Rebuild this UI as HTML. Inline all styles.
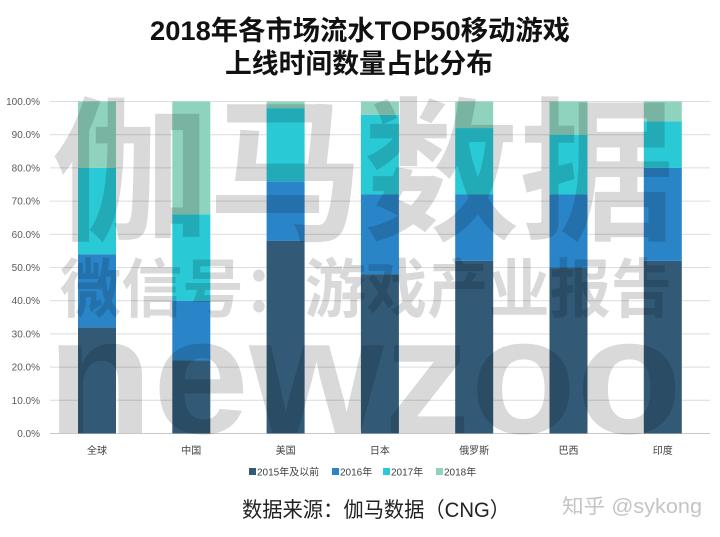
<!DOCTYPE html>
<html>
<head>
<meta charset="utf-8">
<style>
html,body{margin:0;padding:0;background:#fff;}
svg{display:block;}
text{font-family:"Liberation Sans","Noto Sans CJK SC",sans-serif;}
</style>
</head>
<body>
<svg width="720" height="537" viewBox="0 0 720 537" xmlns="http://www.w3.org/2000/svg">
<rect width="720" height="537" fill="#fff"/>
<!-- Title -->
<text x="150" y="40" font-size="27" font-weight="bold" fill="#111" textLength="420" lengthAdjust="spacingAndGlyphs">2018年各市场流水TOP50移动游戏</text>
<text x="225" y="73" font-size="27" font-weight="bold" fill="#111" textLength="268" lengthAdjust="spacingAndGlyphs">上线时间数量占比分布</text>

<!-- gridlines -->
<g stroke="#dcdcdc" stroke-width="1">
<line x1="50" x2="710" y1="101.5" y2="101.5"/>
<line x1="50" x2="710" y1="134.7" y2="134.7"/>
<line x1="50" x2="710" y1="167.9" y2="167.9"/>
<line x1="50" x2="710" y1="201.1" y2="201.1"/>
<line x1="50" x2="710" y1="234.3" y2="234.3"/>
<line x1="50" x2="710" y1="267.5" y2="267.5"/>
<line x1="50" x2="710" y1="300.7" y2="300.7"/>
<line x1="50" x2="710" y1="333.9" y2="333.9"/>
<line x1="50" x2="710" y1="367.1" y2="367.1"/>
<line x1="50" x2="710" y1="400.3" y2="400.3"/>
</g>
<line x1="50" x2="710" y1="433.5" y2="433.5" stroke="#c8c8c8" stroke-width="1"/>

<!-- y labels -->
<g font-size="10" fill="#595959" text-anchor="end">
<text x="40" y="105">100.0%</text>
<text x="40" y="138.2">90.0%</text>
<text x="40" y="171.4">80.0%</text>
<text x="40" y="204.6">70.0%</text>
<text x="40" y="237.8">60.0%</text>
<text x="40" y="271">50.0%</text>
<text x="40" y="304.2">40.0%</text>
<text x="40" y="337.4">30.0%</text>
<text x="40" y="370.6">20.0%</text>
<text x="40" y="403.8">10.0%</text>
<text x="40" y="437">0.0%</text>
</g>

<!-- bars: y(v)=433.5-3.32v -->
<!-- 全球 32,54,80,100 -->
<g>
<rect x="78" y="327.26" width="38" height="106.24" fill="#325a76"/>
<rect x="78" y="254.22" width="38" height="73.04" fill="#2a84c8"/>
<rect x="78" y="167.9" width="38" height="86.32" fill="#29c9d6"/>
<rect x="78" y="101.5" width="38" height="66.4" fill="#8fd3bf"/>
</g>
<!-- 中国 22,40,66,100 -->
<g>
<rect x="172.3" y="360.46" width="38" height="73.04" fill="#325a76"/>
<rect x="172.3" y="300.7" width="38" height="59.76" fill="#2a84c8"/>
<rect x="172.3" y="214.38" width="38" height="86.32" fill="#29c9d6"/>
<rect x="172.3" y="101.5" width="38" height="112.88" fill="#8fd3bf"/>
</g>
<!-- 美国 58,76,98,100 -->
<g>
<rect x="266.6" y="240.94" width="38" height="192.56" fill="#325a76"/>
<rect x="266.6" y="181.18" width="38" height="59.76" fill="#2a84c8"/>
<rect x="266.6" y="108.14" width="38" height="73.04" fill="#29c9d6"/>
<rect x="266.6" y="101.5" width="38" height="6.64" fill="#8fd3bf"/>
</g>
<!-- 日本 48,72,96,100 -->
<g>
<rect x="360.9" y="274.14" width="38" height="159.36" fill="#325a76"/>
<rect x="360.9" y="194.46" width="38" height="79.68" fill="#2a84c8"/>
<rect x="360.9" y="114.78" width="38" height="79.68" fill="#29c9d6"/>
<rect x="360.9" y="101.5" width="38" height="13.28" fill="#8fd3bf"/>
</g>
<!-- 俄罗斯 52,72,92,100 -->
<g>
<rect x="455.2" y="260.86" width="38" height="172.64" fill="#325a76"/>
<rect x="455.2" y="194.46" width="38" height="66.4" fill="#2a84c8"/>
<rect x="455.2" y="128.06" width="38" height="66.4" fill="#29c9d6"/>
<rect x="455.2" y="101.5" width="38" height="26.56" fill="#8fd3bf"/>
</g>
<!-- 巴西 50,72,90,100 -->
<g>
<rect x="549.5" y="267.5" width="38" height="166" fill="#325a76"/>
<rect x="549.5" y="194.46" width="38" height="73.04" fill="#2a84c8"/>
<rect x="549.5" y="134.7" width="38" height="59.76" fill="#29c9d6"/>
<rect x="549.5" y="101.5" width="38" height="33.2" fill="#8fd3bf"/>
</g>
<!-- 印度 52,80,94,100 -->
<g>
<rect x="643.8" y="260.86" width="38" height="172.64" fill="#325a76"/>
<rect x="643.8" y="167.9" width="38" height="92.96" fill="#2a84c8"/>
<rect x="643.8" y="121.42" width="38" height="46.48" fill="#29c9d6"/>
<rect x="643.8" y="101.5" width="38" height="19.92" fill="#8fd3bf"/>
</g>

<!-- category labels -->
<g font-size="10" fill="#404040" text-anchor="middle">
<text x="97" y="454">全球</text>
<text x="191.3" y="454">中国</text>
<text x="285.6" y="454">美国</text>
<text x="379.9" y="454">日本</text>
<text x="474.2" y="454">俄罗斯</text>
<text x="568.5" y="454">巴西</text>
<text x="662.8" y="454">印度</text>
</g>

<!-- legend -->
<g font-size="10" fill="#404040">
<rect x="249" y="468" width="7" height="7" fill="#325a76"/>
<text x="257" y="475.5">2015年及以前</text>
<rect x="332" y="468" width="7" height="7" fill="#2a84c8"/>
<text x="340" y="475.5">2016年</text>
<rect x="383" y="468" width="7" height="7" fill="#29c9d6"/>
<text x="391" y="475.5">2017年</text>
<rect x="436" y="468" width="7" height="7" fill="#8fd3bf"/>
<text x="444" y="475.5">2018年</text>
</g>

<!-- watermarks -->
<g fill="#000" fill-opacity="0.15" font-weight="bold">
<text x="52" y="228" font-size="155" textLength="623" lengthAdjust="spacingAndGlyphs">伽马数据</text>
<text x="60" y="312" font-size="64" textLength="612" lengthAdjust="spacingAndGlyphs">微信号：游戏产业报告</text>
<text x="47" y="433" font-size="166" textLength="635" lengthAdjust="spacingAndGlyphs">newzoo</text>
</g>

<!-- source -->
<text x="242" y="517" font-size="21" fill="#222" textLength="268" lengthAdjust="spacingAndGlyphs">数据来源：伽马数据（CNG）</text>
<text x="562" y="513" font-size="20" fill="#c4c4c4" textLength="140" lengthAdjust="spacingAndGlyphs">知乎 @sykong</text>
</svg>
</body>
</html>
